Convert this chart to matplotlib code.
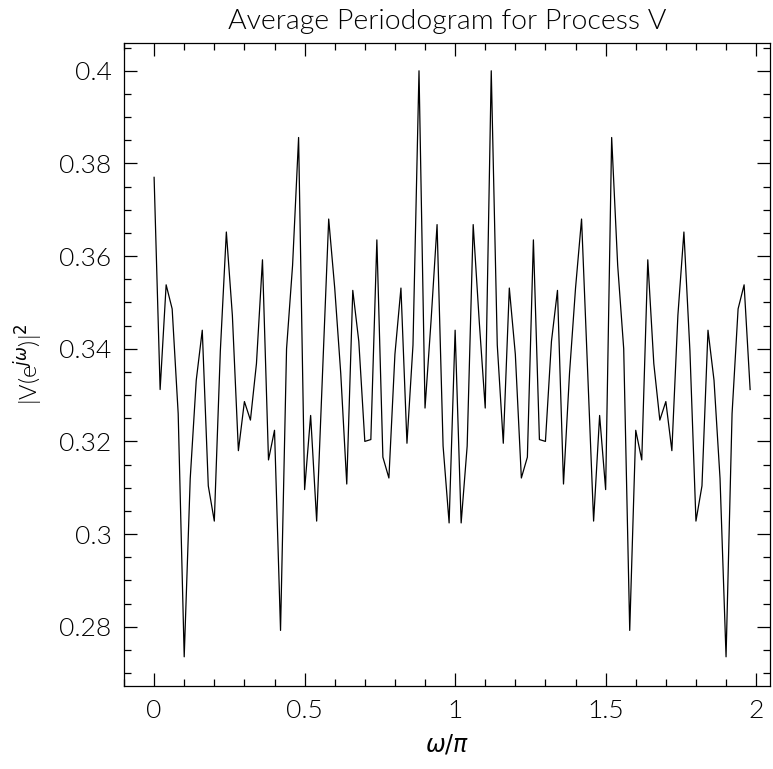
import matplotlib
matplotlib.use('Agg')
import matplotlib.pyplot as plt
from matplotlib.ticker import MultipleLocator, FormatStrFormatter
import numpy as np

###
# DATA (step 0.02 in omega/pi)
###
OMEGA = [k * 0.02 for k in range(100)]
POWER = [0.3770, 0.3312, 0.3538, 0.3486, 0.3260, 0.2735, 0.3120, 0.3332, 0.3440, 0.3104,
         0.3028, 0.3395, 0.3652, 0.3472, 0.3180, 0.3286, 0.3246, 0.3368, 0.3592, 0.3160,
         0.3224, 0.2792, 0.3400, 0.3580, 0.3856, 0.3096, 0.3256, 0.3028, 0.3355, 0.3680,
         0.3531, 0.3347, 0.3108, 0.3526, 0.3416, 0.3200, 0.3204, 0.3635, 0.3166, 0.3121,
         0.3388, 0.3531, 0.3196, 0.3408, 0.4000, 0.3272, 0.3460, 0.3668, 0.3190, 0.3024,
         0.3440, 0.3024, 0.3190, 0.3668, 0.3460, 0.3272, 0.4000, 0.3408, 0.3196, 0.3531,
         0.3388, 0.3121, 0.3166, 0.3635, 0.3204, 0.3200, 0.3416, 0.3526, 0.3108, 0.3347,
         0.3531, 0.3680, 0.3355, 0.3028, 0.3256, 0.3096, 0.3856, 0.3580, 0.3400, 0.2792,
         0.3224, 0.3160, 0.3592, 0.3368, 0.3246, 0.3286, 0.3180, 0.3472, 0.3652, 0.3395,
         0.3028, 0.3104, 0.3440, 0.3332, 0.3120, 0.2735, 0.3260, 0.3486, 0.3538, 0.3312]

TITLE = 'Average Periodogram for Process V'
XLABEL = r'$\omega/\pi$'
YLABEL = r'|V(e$^{j\omega}$)|$^2$'

FIG_SIZE = [7.73, 7.69]
DPI = 100

plt.rcParams['font.family'] = ['Lato', 'DejaVu Sans']
plt.rcParams['font.weight'] = 300
plt.rcParams['axes.titleweight'] = 300
plt.rcParams['axes.labelweight'] = 300
plt.rcParams['mathtext.fontset'] = 'dejavusans'

fig = plt.figure(figsize=FIG_SIZE, dpi=DPI)
# axes box in pixels: left 124, right 770, top 43, bottom 686
W, H = 773.0, 769.0
ax = fig.add_axes([124 / W, (H - 686) / H, (770 - 124) / W, (686 - 43) / H])

ax.plot(OMEGA, POWER, color='black', linewidth=0.9)

ax.set_xlim(-0.1, 2.046)
ax.set_ylim(0.2672, 0.406)

ax.xaxis.set_major_locator(MultipleLocator(0.5))
ax.xaxis.set_minor_locator(MultipleLocator(0.1))
ax.yaxis.set_major_locator(MultipleLocator(0.02))
ax.yaxis.set_minor_locator(MultipleLocator(0.005))
ax.xaxis.set_major_formatter(FormatStrFormatter('%g'))
ax.yaxis.set_major_formatter(FormatStrFormatter('%g'))

ax.tick_params(which='both', direction='in', top=True, right=True,
               width=0.9, color='black')
ax.tick_params(which='major', length=9.5, labelsize=19, pad=9)
ax.tick_params(which='minor', length=5)
for sp in ax.spines.values():
    sp.set_linewidth(0.9)

ax.set_title(TITLE, fontsize=20.5, pad=10)
ax.set_xlabel(XLABEL, fontsize=17, labelpad=7)
ax.set_ylabel(YLABEL, fontsize=17, labelpad=10)

fig.savefig('out.png', dpi=DPI)
